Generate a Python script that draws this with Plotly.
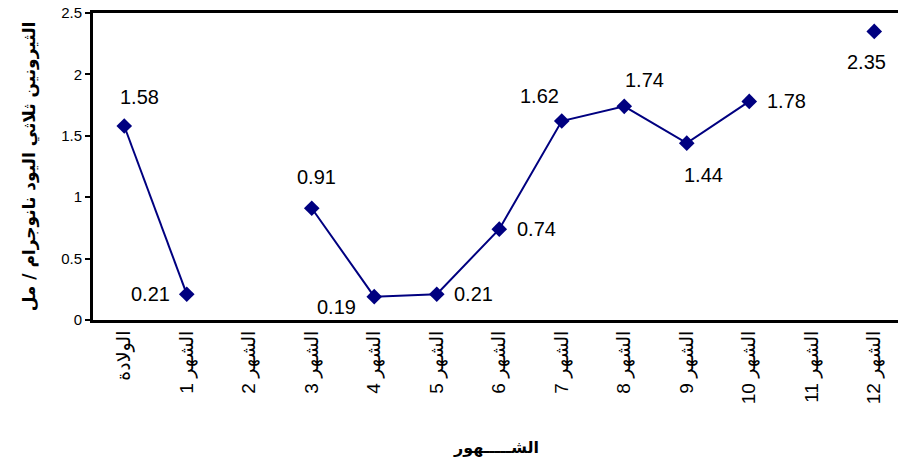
import plotly.graph_objects as go

categories = ["الولادة", "الشهر 1", "الشهر 2", "الشهر 3", "الشهر 4", "الشهر 5", "الشهر 6",
              "الشهر 7", "الشهر 8", "الشهر 9", "الشهر 10", "الشهر 11", "الشهر 12"]
values = [1.58, 0.21, None, 0.91, 0.19, 0.21, 0.74, 1.62, 1.74, 1.44, 1.78, None, 2.35]
y_ticks = [0, 0.5, 1, 1.5, 2, 2.5]
y_tick_labels = ["0", "0.5", "1", "1.5", "2", "2.5"]

# label offsets (pixels) per point, style only
label_dx = [15, -36, 0, 5, -38, 37, 37, -22, 20, 17, 37, 0, -8]
label_dy = [-29, 0, 0, -31, 10, 0, 0, -25, -26, 32, 0, 0, 31]

NAVY = "#000080"
FONT = "Arial, Liberation Sans, DejaVu Sans, sans-serif"

fig = go.Figure()
fig.add_trace(go.Scatter(
    x=list(range(len(categories))), y=values, mode="lines+markers",
    line=dict(color=NAVY, width=2),
    marker=dict(symbol="diamond", size=12, color=NAVY),
    connectgaps=False, showlegend=False, hoverinfo="skip",
))

annotations = []
for i, v in enumerate(values):
    if v is None:
        continue
    annotations.append(dict(
        x=i, y=v, xref="x", yref="y", text=f"{v:.2f}", showarrow=False,
        xshift=label_dx[i], yshift=-label_dy[i],
        font=dict(family=FONT, size=20, color="black"),
    ))

annotations.append(dict(
    x=0.5, xref="paper", y=0, yref="paper", xanchor="center", yanchor="middle",
    yshift=-127, text="<b>الشـــــهور</b>", showarrow=False,
    font=dict(family="DejaVu Sans, sans-serif", size=16, color="black"),
))

fig.update_layout(
    width=898, height=469,
    margin=dict(l=93, r=0, t=13, b=149),
    paper_bgcolor="white", plot_bgcolor="white",
    annotations=annotations,
    xaxis=dict(
        range=[-0.5, 12.38],
        tickmode="array", tickvals=list(range(len(categories))), ticktext=categories,
        tickangle=-90, ticks="", showgrid=False, zeroline=False,
        showline=True, linecolor="black", linewidth=3, mirror=True,
        tickfont=dict(family=FONT, size=19, color="black"),
        fixedrange=True,
    ),
    yaxis=dict(
        range=[0, 2.5], tickmode="array", tickvals=y_ticks, ticktext=y_tick_labels,
        ticks="outside", ticklen=5, tickwidth=2, tickcolor="black",
        showgrid=False, zeroline=False,
        showline=True, linecolor="black", linewidth=3, mirror=False,
        tickfont=dict(family=FONT, size=15, color="black"),
        title=dict(text="<b>الثيرونين ثلاثي اليود نانوجرام / مل</b>",
                   font=dict(family="DejaVu Sans, sans-serif", size=17, color="black"),
                   standoff=22),
        fixedrange=True,
    ),
)

fig.write_html("out.html")
